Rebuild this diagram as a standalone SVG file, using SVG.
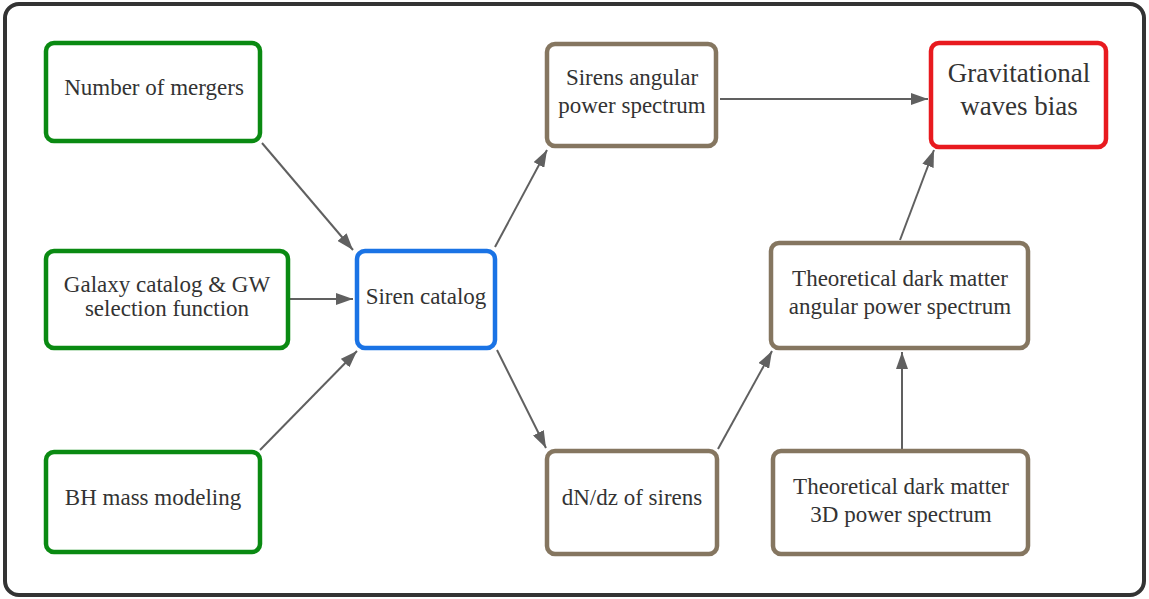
<svg xmlns="http://www.w3.org/2000/svg" width="1149" height="599" viewBox="0 0 1149 599">
<style>
.box{fill:#fff;stroke-width:4.5}
.g{stroke:#0a8a12}
.b{stroke:#1a73e5}
.k{stroke:#857660}
.r{stroke:#e81a1f}
text{font-size:23px;fill:#333;text-anchor:middle}
.big{font-size:27px}
.c line{stroke:#606060;stroke-width:2;marker-end:url(#ah)}
</style>
<defs>
<marker id="ah" viewBox="0 0 10 10" refX="10" refY="5" markerWidth="17" markerHeight="12" markerUnits="userSpaceOnUse" orient="auto" preserveAspectRatio="none">
<path d="M0,0 L10,5 L0,10 z" fill="#606060"/>
</marker>
</defs>
<rect x="5" y="4" width="1139" height="591" rx="14" fill="#fff" stroke="#333" stroke-width="4"/>
<g class="c">
<line x1="262" y1="143" x2="353" y2="250"/>
<line x1="290" y1="299" x2="353" y2="299"/>
<line x1="260" y1="450" x2="357" y2="351"/>
<line x1="495" y1="247" x2="547" y2="150"/>
<line x1="497" y1="350" x2="546" y2="448"/>
<line x1="720" y1="99" x2="928" y2="99"/>
<line x1="718" y1="449" x2="772" y2="351"/>
<line x1="900" y1="240" x2="934" y2="150"/>
<line x1="902" y1="449" x2="902" y2="352"/>
</g>
<g font-family="Liberation Serif, Times New Roman, serif">
<g id="n1"><rect class="box g" x="46" y="43" width="214" height="98" rx="8"/><text x="154" y="95">Number of mergers</text></g>
<g id="n2"><rect class="box g" x="46" y="251" width="242" height="97" rx="8"/><text x="167" y="292">Galaxy catalog &amp; GW</text><text x="167" y="316">selection function</text></g>
<g id="n3"><rect class="box g" x="46" y="452" width="214" height="100" rx="8"/><text x="153" y="505">BH mass modeling</text></g>
<g id="n4"><rect class="box b" x="357" y="251" width="138" height="97" rx="8"/><text x="426" y="304">Siren catalog</text></g>
<g id="n5"><rect class="box k" x="547" y="44" width="169" height="102" rx="8"/><text x="632" y="85">Sirens angular</text><text x="632" y="113">power spectrum</text></g>
<g id="n6"><rect class="box r" x="931" y="43" width="175" height="104" rx="8"/><text class="big" x="1019" y="82">Gravitational</text><text class="big" x="1019" y="115">waves bias</text></g>
<g id="n7"><rect class="box k" x="771" y="243" width="257" height="105" rx="8"/><text x="900" y="286">Theoretical dark matter</text><text x="900" y="314">angular power spectrum</text></g>
<g id="n8"><rect class="box k" x="547" y="451" width="170" height="103" rx="8"/><text x="632" y="505">dN/dz of sirens</text></g>
<g id="n9"><rect class="box k" x="773" y="451" width="255" height="103" rx="8"/><text x="901" y="494">Theoretical dark matter</text><text x="901" y="522">3D power spectrum</text></g>
</g>
</svg>
